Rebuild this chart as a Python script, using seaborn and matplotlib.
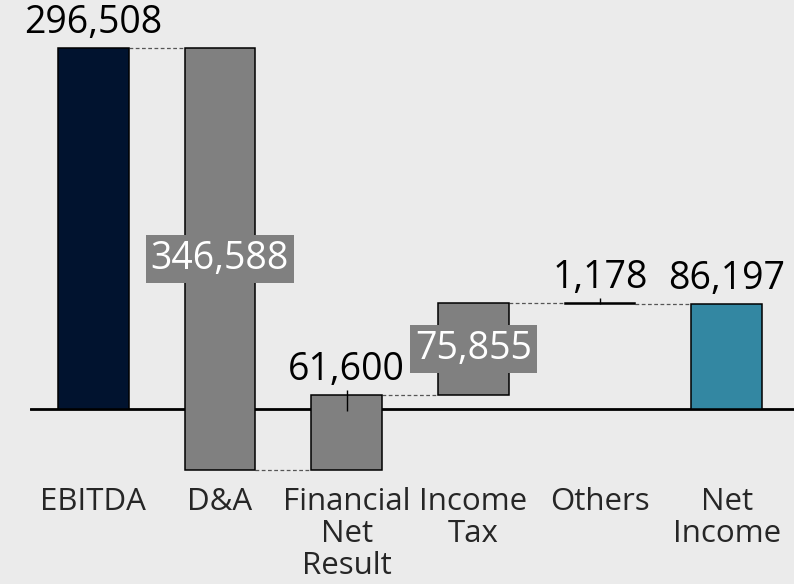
import matplotlib
matplotlib.use("Agg")
import matplotlib.pyplot as plt
import seaborn as sns
import numpy as np

categories = ["EBITDA", "D&A", "Financial\nNet\nResult", "Income\nTax", "Others", "Net\nIncome"]
values = [296508, -346588, 61600, 75855, -1178, 86197]
is_total = [True, False, False, False, False, True]
labels = ["296,508", "346,588", "61,600", "75,855", "1,178", "86,197"]
label_inside = [False, True, False, True, False, False]
colors = ["#01132f", "#808080", "#808080", "#808080", "#808080", "#3387a2"]

# running totals
lows, highs, levels, run = [], [], [], 0
for v, t in zip(values, is_total):
    if t:
        lo, hi = min(0, v), max(0, v)
        run = v
    else:
        start, end = run, run + v
        lo, hi = min(start, end), max(start, end)
        run = end
    lows.append(lo)
    highs.append(hi)
    levels.append(run)

sns.set_theme(style="white")
BG = "#ebebeb"
W, H, DPI = 794, 584, 100
fig = plt.figure(figsize=(W / DPI, H / DPI), dpi=DPI, facecolor=BG)
ax_l, ax_r, ax_b, ax_t = 30, 790, 480, 0
ax = fig.add_axes([ax_l / W, 1 - ax_b / H, (W - ax_l) / W, (ax_b - ax_t) / H])
ax.set_facecolor(BG)

px_per_unit = 1.2175 / 1000
zero_px = 409
ymax = (zero_px - ax_t) / px_per_unit
ymin = -(ax_b - zero_px) / px_per_unit
upp = 1 / px_per_unit  # data units per pixel

bw = 0.56
sns.barplot(x=categories, y=[h - l for h, l in zip(highs, lows)], hue=categories,
            palette=colors, legend=False, width=bw, edgecolor="black",
            linewidth=1.1, saturation=1, ax=ax, zorder=2)
for p, lo, hi in zip(ax.patches, lows, highs):
    p.set_y(lo)
    p.set_height(hi - lo)

n = len(categories)
ax.set_xlim(-0.5, n - 0.5 + (W - ax_r) / ((ax_r - ax_l) / n))
ax.set_ylim(ymin, ymax)
ax.axhline(0, color="black", lw=2, zorder=1)

# connectors
for i in range(n - 1):
    ax.hlines(levels[i], i + bw / 2, i + 1 - bw / 2, colors="#555555",
              linestyles=(0, (3, 2)), lw=0.9, zorder=1.5)

valfont = ["Open Sans", "DejaVu Sans"]
for i, (lab, inside) in enumerate(zip(labels, label_inside)):
    if inside:
        ax.text(i, (lows[i] + highs[i]) / 2, lab, ha="center", va="center",
                color="white", fontsize=27, family=valfont, zorder=5,
                bbox=dict(boxstyle="square,pad=0.13", fc="#808080", ec="none"))
    else:
        ax.annotate(lab, (i, highs[i]), xytext=(0, 10.5), textcoords="offset points",
                    ha="center", va="baseline", fontsize=27, family=valfont,
                    color="black", zorder=5)
        if not is_total[i]:
            depth = min(16, (highs[i] - lows[i]) / upp)
            ax.vlines(i, highs[i] - depth * upp, highs[i] + 5 * upp,
                      colors="black", lw=1, zorder=4)

ax.set_xticks(range(n))
ax.set_xticklabels(categories, fontsize=22.5, family=valfont, linespacing=1.08)
ax.tick_params(axis="x", length=0, pad=5)
ax.set_xlabel("")
ax.set_ylabel("")
ax.set_yticks([])
for s in ax.spines.values():
    s.set_visible(False)

fig.savefig("out.png", dpi=DPI, facecolor=BG)
